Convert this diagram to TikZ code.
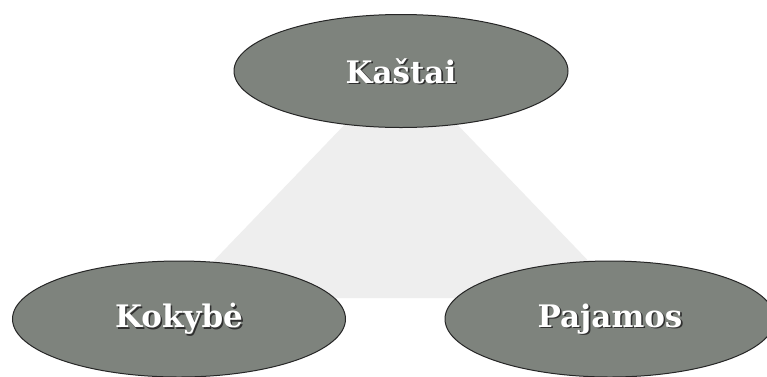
\documentclass[tikz,border=0pt]{standalone}
\usepackage{fontspec}
\setmainfont{DejaVu Serif}
\usetikzlibrary{shapes.geometric}
\definecolor{ellfill}{HTML}{7E837D}
\definecolor{ellline}{HTML}{262626}
\definecolor{trifill}{HTML}{EEEEEE}
\definecolor{shadowc}{HTML}{303030}
\tikzset{
  oval/.style={ellipse, draw=ellline, line width=1pt, fill=ellfill, inner sep=0pt},
  lbl/.style={font=\bfseries\fontsize{31}{31}\selectfont, text=white, inner sep=0pt},
  lblshadow/.style={font=\bfseries\fontsize{31}{31}\selectfont, text=shadowc, inner sep=0pt},
}
\begin{document}
\begin{tikzpicture}[x=1pt,y=-1pt]
\useasboundingbox (0,0) rectangle (767,376);
\fill[white] (0,0) rectangle (767,376);
% triangle
\coordinate (apex) at (401,66);
\coordinate (bl) at (178,298);
\coordinate (br) at (624,298);
\fill[trifill] (apex) -- (bl) -- (br) -- cycle;
% ellipses
\node[oval, minimum width=334pt, minimum height=113pt] (k) at (401,71) {};
\node[oval, minimum width=333pt, minimum height=116pt] (q) at (179,319) {};
\node[oval, minimum width=330pt, minimum height=116pt] (p) at (610,319) {};
% labels with shadow
\node[lblshadow] at ([shift={(1.6,1.6)}]k.center) {Kaštai};
\node[lbl] (kt) at (k.center) {Kaštai};
\node[lblshadow] at ([shift={(1.6,1.6)}]q.center) {Kokybė};
\node[lbl] (qt) at (q.center) {Kokybė};
\node[lblshadow] at ([shift={(1.6,1.6)}]p.center) {Pajamos};
\node[lbl] (pt) at (p.center) {Pajamos};
\end{tikzpicture}
\end{document}
